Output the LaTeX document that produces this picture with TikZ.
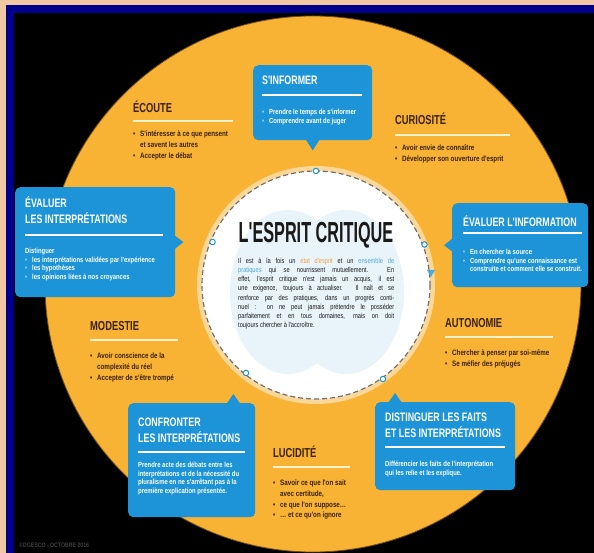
\documentclass[tikz,border=0pt]{standalone}
\usepackage{fontspec}
\setmainfont{Liberation Sans}
\newfontfamily\tfont{Liberation Sans}[FakeStretch=0.72]
\newfontfamily\hfont{Liberation Sans}[FakeStretch=0.56]
\newfontfamily\sfont{Liberation Sans}[FakeStretch=0.8]
\newfontfamily\pfont{Liberation Sans}[FakeStretch=0.78]
\definecolor{peach}{HTML}{F1C8A2}
\definecolor{navy}{HTML}{00008A}
\definecolor{orng}{HTML}{F8B234}
\definecolor{bblue}{HTML}{1D93D8}
\definecolor{brn}{HTML}{3A220C}
\definecolor{cream}{HTML}{FFF3CC}
\definecolor{lblue}{HTML}{A8DDF5}
\definecolor{brain}{HTML}{E8F3FA}
\definecolor{espr}{HTML}{EFA040}
\definecolor{prat}{HTML}{4FAAD6}
\definecolor{dashgray}{HTML}{707070}
\newcommand{\bu}[1]{\makebox[7pt][l]{\color{#1}\textbullet}}
\newcommand{\ind}{\hspace*{7pt}}
\newcommand{\jl}[1]{\makebox[156pt][s]{#1}}
\tikzset{
  bbox/.style={fill=bblue, rounded corners=5pt, anchor=north west, inner sep=0pt},
  btitle/.style={inner sep=0pt, text=white, align=left, font=\tfont\bfseries\fontsize{12.3}{15.5}\selectfont},
  btext/.style={anchor=north west, inner sep=0pt, text=white, align=left, font=\sfont\bfseries\fontsize{7.4}{8.8}\selectfont},
  otitle/.style={anchor=base west, inner sep=0pt, text=brn, font=\tfont\bfseries\fontsize{13}{14}\selectfont},
  otext/.style={anchor=north west, inner sep=0pt, text=brn, align=left, font=\sfont\bfseries\fontsize{7.8}{10.8}\selectfont},
  wline/.style={white, line width=2.6pt},
  cline/.style={cream, line width=2.6pt},
  cdot/.style={circle, draw=bblue, fill=white, line width=1pt, minimum size=5.5pt, inner sep=0pt},
}
\begin{document}
\begin{tikzpicture}[x=1pt,y=-1pt]
\useasboundingbox (0,0) rectangle (594,553);
% frame
\fill[peach] (0,0) rectangle (594,553);
\fill[navy] (6,5) rectangle (594,553);
\fill[black] (14,13) rectangle (594,553);
% outer disc
\coordinate (C0) at (313,284);
\fill[orng] (C0) circle [radius=268];
\draw[brn!70!orng, line width=0.8pt] (C0) circle [radius=268];
% inner disc
\coordinate (C1) at (316,285);
\fill[white, opacity=0.5] (C1) circle [radius=119];
\fill[white] (C1) circle [radius=114];
\fill[brain] (288,292) ellipse [x radius=58, y radius=82];
\fill[brain] (346,292) ellipse [x radius=58, y radius=82];
\draw[dashgray, line width=1.2pt, dash pattern=on 5pt off 3pt] (C1) circle [radius=114];
% dots on inner circle
\node[cdot] (d1) at (316,171) {};
\node[cdot] (d2) at (212.5,242) {};
\node[cdot] (d3) at (424.5,244.5) {};
\node[cdot] (d4) at (246,373) {};
\node[cdot] (d5) at (383,379) {};
\fill[prat] (427,270) -- (435,270) -- (431,277) -- cycle;

% centre text
\node[anchor=base, inner sep=0pt, text=black!90, font=\hfont\bfseries\fontsize{29}{30}\selectfont] (ttl) at (316,243) {L'ESPRIT CRITIQUE};
\node[anchor=north west, inner sep=0pt, align=left, text=black!90, font=\pfont\fontsize{7.3}{9.2}\selectfont] (par) at (238,256.6) {\strut\jl{Il est à la fois un {\color{espr}état d'esprit} et un {\color{prat}ensemble de}}\\
\jl{{\color{prat}pratiques} qui se nourrissent mutuellement. En}\\
\jl{effet, l'esprit critique n'est jamais un acquis, il est}\\
\jl{une exigence, toujours à actualiser. Il naît et se}\\
\jl{renforce par des pratiques, dans un progrès conti-}\\
\jl{nuel : on ne peut jamais prétendre le posséder}\\
\jl{parfaitement et en tous domaines, mais on doit}\\
toujours chercher à l'accroître.};

% ---- blue boxes ----
% S'INFORMER
\node[bbox, minimum width=119pt, minimum height=75pt] (sinf) at (253,65) {};
\fill[bblue] ([xshift=-7pt,yshift=1pt]sinf.south) -- ([yshift=-10pt]sinf.south) -- ([xshift=7pt,yshift=1pt]sinf.south) -- cycle;
\node[btitle, anchor=base west] (sinft) at (262,85) {S'INFORMER};
\draw[wline] (262,95) -- (362,95);
\node[btext] (sinfx) at (262,108) {\strut\bu{lblue}Prendre le temps de s'informer\\ \bu{lblue}Comprendre avant de juger};

% EVALUER LES INTERPRETATIONS
\node[bbox, minimum width=160pt, minimum height=110pt] (evi) at (15,187) {};
\fill[bblue] ([xshift=-1pt,yshift=7pt]evi.east) -- ([xshift=8pt]evi.east) -- ([xshift=-1pt,yshift=-7pt]evi.east) -- cycle;
\node[btitle, anchor=north west] (evit) at (25,196.2) {\strut ÉVALUER\\LES INTERPRÉTATIONS};
\draw[wline] (25,235) -- (163,235);
\node[btext] (evix) at (25,247) {\strut Distinguer\\ \bu{lblue}les interprétations validées par l'expérience\\ \bu{lblue}les hypothèses\\ \bu{lblue}les opinions liées à nos croyances};

% EVALUER L'INFORMATION
\node[bbox, minimum width=136pt, minimum height=84pt] (evin) at (452,203) {};
\fill[bblue] ([xshift=1pt,yshift=7pt]evin.west) -- ([xshift=-8pt]evin.west) -- ([xshift=1pt,yshift=-7pt]evin.west) -- cycle;
\node[btitle, anchor=base west] (evint) at (463,227) {ÉVALUER L'INFORMATION};
\draw[wline] (463,233) -- (582,233);
\node[btext] (evinx) at (463,248) {\strut\bu{lblue}En chercher la source\\ \bu{lblue}Comprendre qu'une connaissance est\\ \ind construite et comment elle se construit.};

% CONFRONTER
\node[bbox, minimum width=127pt, minimum height=114pt] (conf) at (128,403) {};
\fill[bblue] ([xshift=-29pt,yshift=-1pt]conf.north east) -- ([xshift=-22pt,yshift=9pt]conf.north east) -- ([xshift=-15pt,yshift=-1pt]conf.north east) -- cycle;
\node[btitle, anchor=north west] (conft) at (138,415.2) {\strut CONFRONTER\\LES INTERPRÉTATIONS};
\draw[wline] (138,452) -- (245,452);
\node[btext] (confx) at (138,461) {\strut Prendre acte des débats entre les\\interprétations et de la nécessité du\\pluralisme en ne s'arrêtant pas à la\\première explication présentée.};

% DISTINGUER
\node[bbox, minimum width=140pt, minimum height=88pt] (dist) at (375,402) {};
\fill[bblue] ([xshift=13pt,yshift=-1pt]dist.north west) -- ([xshift=20pt,yshift=9pt]dist.north west) -- ([xshift=27pt,yshift=-1pt]dist.north west) -- cycle;
\node[btitle, anchor=north west] (distt) at (385,410.2) {\strut DISTINGUER LES FAITS\\ET LES INTERPRÉTATIONS};
\draw[wline] (385,447) -- (505,447);
\node[btext] (distx) at (385,460) {\strut Différencier les faits de l'interprétation\\qui les relie et les explique.};

% ---- orange sections ----
\node[otitle] (ecou) at (133,113) {ÉCOUTE};
\draw[cline] (133,121) -- (233,121);
\node[otext] (ecoux) at (133,128.7) {\strut\bu{brn}S'intéresser à ce que pensent\\ \ind et savent les autres\\ \bu{brn}Accepter le débat};

\node[otitle] (curi) at (395,125) {CURIOSITÉ};
\draw[cline] (395,135) -- (510,135);
\node[otext] (curix) at (395,142.7) {\strut\bu{brn}Avoir envie de connaître\\ \bu{brn}Développer son ouverture d'esprit};

\node[otitle] (auto) at (445,327) {AUTONOMIE};
\draw[cline] (445,337) -- (553,337);
\node[otext] (autox) at (445,347.7) {\strut\bu{brn}Chercher à penser par soi-même\\ \bu{brn}Se méfier des préjugés};

\node[otitle] (mode) at (90,330) {MODESTIE};
\draw[cline] (90,340) -- (178,340);
\node[otext] (modex) at (90,350.7) {\strut\bu{brn}Avoir conscience de la\\ \ind complexité du réel\\ \bu{brn}Accepter de s'être trompé};

\node[otitle] (luci) at (273,457) {LUCIDITÉ};
\draw[cline] (273,467) -- (350,467);
\node[otext] (lucix) at (273,477.7) {\strut\bu{brn}Savoir ce que l'on sait\\ \ind avec certitude,\\ \bu{brn}ce que l'on suppose\dots\\ \bu{brn}\dots\ et ce qu'on ignore};

% credit
\node[anchor=base west, inner sep=0pt, text=white!25!black, font=\sfont\bfseries\fontsize{6.5}{7}\selectfont] (cred) at (19,547) {©DGESCO - OCTOBRE 2016};
\end{tikzpicture}
\end{document}
